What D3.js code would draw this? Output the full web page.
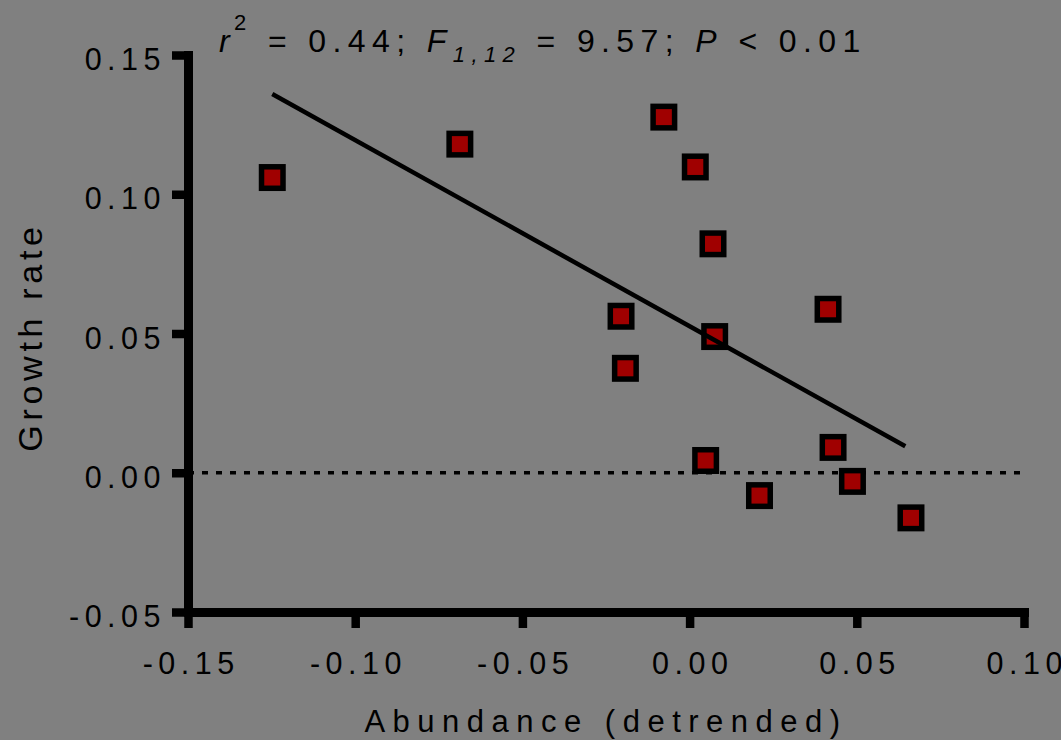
<!DOCTYPE html>
<html><head><meta charset="utf-8">
<script src="https://cdn.jsdelivr.net/npm/d3@7"></script>
<style>
html,body{margin:0;padding:0;background:#808080;}
svg{display:block;background:#808080;}
text{font-family:"Liberation Sans",Arial,Helvetica,sans-serif;fill:#000;}
</style></head><body>
<svg id="chart" width="1061" height="740"></svg>
<script>
// ---- data ----
const abundance = [-0.1248, -0.0687, -0.0077, 0.0017, 0.0070, 0.0414, -0.0205, 0.0075, -0.0192, 0.0048, 0.0429, 0.0209, 0.0487, 0.0662];
const growth    = [ 0.1060,  0.1180,  0.1277, 0.1098, 0.0822, 0.0587,  0.0562, 0.0489,  0.0375, 0.0044, 0.0091, -0.0082, -0.0031, -0.0162];
const fitX = [-0.1248, 0.0645];
const fitY = [0.1360, 0.0095];
const xTicks = [-0.15, -0.10, -0.05, 0.00, 0.05, 0.10];
const xTickLabels = ["-0.15", "-0.10", "-0.05", "0.00", "0.05", "0.10"];
const yTicks = [-0.05, 0.00, 0.05, 0.10, 0.15];
const yTickLabels = ["-0.05", "0.00", "0.05", "0.10", "0.15"];
const xTitle = "Abundance (detrended)";
const yTitle = "Growth rate";

const svg = d3.select("#chart");
const x = d3.scaleLinear().domain([-0.15, 0.10]).range([188, 1024]);
const y = d3.scaleLinear().domain([-0.05, 0.15]).range([612, 55]);

// zero reference line (dotted)
svg.append("line")
  .attr("x1", x(-0.15)).attr("x2", x(0.10))
  .attr("y1", y(0)).attr("y2", y(0))
  .attr("stroke", "#000").attr("stroke-width", 3.5)
  .attr("stroke-dasharray", "6,8");

// axes
const xAxis = d3.axisBottom(x).tickValues(xTicks).tickSize(16).tickSizeOuter(0)
  .tickFormat((d, i) => xTickLabels[i]);
const yAxis = d3.axisLeft(y).tickValues(yTicks).tickSize(16).tickSizeOuter(0)
  .tickFormat((d, i) => yTickLabels[i]);

const gx = svg.append("g").attr("transform", "translate(0,612)").call(xAxis);
const gy = svg.append("g").attr("transform", "translate(188,0)").call(yAxis);

[gx, gy].forEach(g => {
  g.attr("font-size", null).attr("font-family", null);
  g.select(".domain").attr("stroke", "#000").attr("stroke-width", 9).attr("stroke-linecap", "square");
  g.selectAll(".tick line").attr("stroke", "#000").attr("stroke-width", 8.5);
  g.selectAll(".tick text")
    .attr("font-size", 30.5)
    .style("letter-spacing", "5.5px").attr("fill", "#000");
});
gx.selectAll(".tick text").attr("y", 62).attr("dy", null).attr("dx", 2.7);
gy.selectAll(".tick text").attr("x", -22).attr("dy", 14.5).attr("text-anchor", "end");

// points
const pts = abundance.map((a, i) => ({a, g: growth[i]}));
const sz = 21.5;
svg.append("g").selectAll("rect").data(pts).join("rect")
  .attr("x", d => x(d.a) - sz / 2).attr("y", d => y(d.g) - sz / 2)
  .attr("width", sz).attr("height", sz)
  .attr("fill", "#a00000").attr("stroke", "#000").attr("stroke-width", 5.5);

// regression line
svg.append("line")
  .attr("x1", x(fitX[0])).attr("y1", y(fitY[0]))
  .attr("x2", x(fitX[1])).attr("y2", y(fitY[1]))
  .attr("stroke", "#000").attr("stroke-width", 4.5);

// statistics title
const t = svg.append("text").attr("x", 219).attr("y", 52)
  .attr("font-size", 32).style("letter-spacing", "6.4px");
t.append("tspan").attr("font-style", "italic").text("r");
t.append("tspan").attr("font-size", 22).attr("dy", -21.7).attr("dx", -2).text("2");
t.append("tspan").attr("dy", 21.7).text(" = 0.44; ");
t.append("tspan").attr("font-style", "italic").text("F");
t.append("tspan").attr("font-style", "italic").attr("font-size", 22).attr("dy", 10).text("1,12");
t.append("tspan").attr("dy", -10).text(" = 9.57; ");
t.append("tspan").attr("font-style", "italic").text("P");
t.append("tspan").text(" < 0.01");

// axis titles
svg.append("text").attr("x", 606).attr("y", 732)
  .attr("text-anchor", "middle").attr("font-size", 31)
  .style("letter-spacing", "7.5px").text(xTitle);
svg.append("text").attr("transform", "translate(42,337) rotate(-90)")
  .attr("text-anchor", "middle").attr("font-size", 34)
  .style("letter-spacing", "4.7px").text(yTitle);
</script>
</body></html>
